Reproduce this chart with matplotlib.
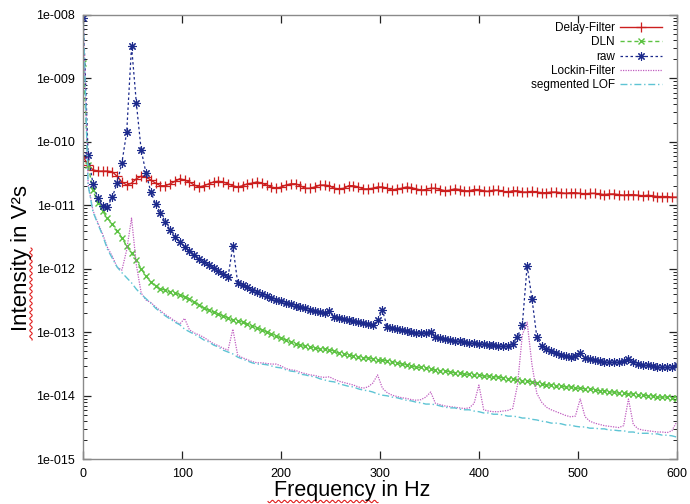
import numpy as np
import matplotlib
matplotlib.use("Agg")
import matplotlib.pyplot as plt
from matplotlib.ticker import FuncFormatter, LogLocator, MultipleLocator
from matplotlib.lines import Line2D

plt.rcParams['font.family'] = ['Liberation Sans', 'DejaVu Sans']

# frequency bins (Hz), 124 points from 0 to 600
freq = np.arange(124) * 600.0 / 123

# values are log10 of the intensity in V^2 s
delay_log = [
    -10.24, -10.36, -10.44, -10.46, -10.46, -10.46, -10.47, -10.54, -10.63, -10.68,
    -10.65, -10.58, -10.54, -10.55, -10.60, -10.65, -10.69, -10.69, -10.66, -10.62,
    -10.58, -10.60, -10.63, -10.68, -10.71, -10.69, -10.66, -10.63, -10.62, -10.63,
    -10.66, -10.69, -10.71, -10.69, -10.66, -10.65, -10.63, -10.65, -10.68, -10.71,
    -10.73, -10.71, -10.68, -10.66, -10.66, -10.69, -10.73, -10.73, -10.71, -10.68,
    -10.68, -10.69, -10.73, -10.74, -10.73, -10.69, -10.69, -10.71, -10.74, -10.74,
    -10.73, -10.71, -10.71, -10.73, -10.76, -10.74, -10.73, -10.71, -10.72, -10.74,
    -10.76, -10.75, -10.73, -10.73, -10.75, -10.77, -10.76, -10.74, -10.75, -10.77,
    -10.77, -10.75, -10.75, -10.77, -10.78, -10.76, -10.76, -10.78, -10.79, -10.77,
    -10.77, -10.79, -10.79, -10.78, -10.79, -10.80, -10.80, -10.79, -10.79, -10.80,
    -10.81, -10.80, -10.80, -10.81, -10.82, -10.81, -10.81, -10.82, -10.83, -10.82,
    -10.82, -10.83, -10.84, -10.83, -10.83, -10.84, -10.85, -10.84, -10.85, -10.86,
    -10.86, -10.86, -10.87, -10.87]

dln_log = [
    -8.75, -10.36, -10.76, -10.96, -11.09, -11.20, -11.29, -11.40, -11.51, -11.64,
    -11.75, -11.86, -12.00, -12.11, -12.21, -12.27, -12.32, -12.33, -12.36, -12.38,
    -12.41, -12.44, -12.47, -12.52, -12.57, -12.62, -12.65, -12.68, -12.71, -12.74,
    -12.77, -12.81, -12.82, -12.84, -12.87, -12.90, -12.93, -12.96, -12.99, -13.03,
    -13.06, -13.09, -13.12, -13.15, -13.18, -13.20, -13.22, -13.23, -13.25, -13.26,
    -13.26, -13.28, -13.29, -13.33, -13.34, -13.36, -13.37, -13.39, -13.40, -13.40,
    -13.42, -13.44, -13.44, -13.45, -13.47, -13.48, -13.50, -13.51, -13.53, -13.55,
    -13.55, -13.56, -13.58, -13.59, -13.61, -13.61, -13.62, -13.64, -13.64, -13.66,
    -13.66, -13.67, -13.67, -13.69, -13.69, -13.70, -13.70, -13.72, -13.73, -13.73,
    -13.75, -13.77, -13.77, -13.78, -13.80, -13.81, -13.83, -13.83, -13.85, -13.85,
    -13.86, -13.86, -13.88, -13.88, -13.89, -13.89, -13.91, -13.92, -13.92, -13.94,
    -13.94, -13.96, -13.96, -13.97, -13.97, -13.99, -13.99, -14.00, -14.00, -14.02,
    -14.02, -14.02, -14.03, -14.03]

raw_log = [
    -8.05, -10.20, -10.66, -10.88, -11.01, -11.02, -10.87, -10.65, -10.33, -9.84,
    -8.49, -9.39, -10.13, -10.49, -10.79, -10.98, -11.12, -11.26, -11.39, -11.50,
    -11.58, -11.65, -11.72, -11.78, -11.84, -11.89, -11.94, -11.99, -12.04, -12.08,
    -12.13, -11.64, -12.22, -12.25, -12.29, -12.33, -12.36, -12.40, -12.43, -12.46,
    -12.49, -12.51, -12.54, -12.55, -12.58, -12.60, -12.62, -12.65, -12.66, -12.68,
    -12.70, -12.66, -12.76, -12.77, -12.79, -12.81, -12.82, -12.84, -12.85, -12.87,
    -12.88, -12.81, -12.65, -12.92, -12.93, -12.95, -12.96, -12.98, -12.99, -13.01,
    -13.01, -13.01, -12.99, -13.07, -13.09, -13.10, -13.12, -13.13, -13.13, -13.15,
    -13.17, -13.17, -13.18, -13.18, -13.20, -13.20, -13.22, -13.22, -13.22, -13.18,
    -13.07, -12.88, -11.95, -12.47, -13.07, -13.22, -13.26, -13.29, -13.33, -13.36,
    -13.37, -13.39, -13.37, -13.33, -13.40, -13.42, -13.44, -13.45, -13.47, -13.47,
    -13.47, -13.47, -13.45, -13.42, -13.47, -13.50, -13.51, -13.51, -13.53, -13.55,
    -13.55, -13.55, -13.55, -13.51]

lockin_log = [
    -8.08, -10.66, -11.08, -11.27, -11.45, -11.66, -11.80, -11.97, -12.02, -11.70,
    -11.20, -11.94, -12.38, -12.49, -12.53, -12.60, -12.66, -12.72, -12.77, -12.82,
    -12.87, -12.78, -12.96, -13.01, -13.04, -13.08, -13.13, -13.18, -13.21, -13.25,
    -13.28, -12.95, -13.36, -13.40, -13.43, -13.46, -13.48, -13.48, -13.49, -13.50,
    -13.50, -13.53, -13.57, -13.59, -13.60, -13.63, -13.65, -13.67, -13.68, -13.70,
    -13.71, -13.70, -13.74, -13.77, -13.79, -13.81, -13.83, -13.86, -13.88, -13.86,
    -13.80, -13.67, -13.88, -13.95, -13.99, -14.01, -14.03, -14.04, -14.06, -14.07,
    -14.06, -14.02, -13.94, -14.12, -14.14, -14.16, -14.17, -14.18, -14.19, -14.20,
    -14.19, -14.12, -13.83, -14.22, -14.24, -14.25, -14.25, -14.24, -14.23, -14.20,
    -13.83, -13.04, -12.84, -13.51, -13.96, -14.10, -14.18, -14.22, -14.25, -14.28,
    -14.31, -14.33, -14.32, -14.05, -14.33, -14.40, -14.43, -14.45, -14.47, -14.48,
    -14.49, -14.50, -14.47, -14.05, -14.45, -14.52, -14.54, -14.55, -14.56, -14.57,
    -14.57, -14.58, -14.55, -14.41]

lof_log = [
    -8.08, -10.68, -11.10, -11.29, -11.47, -11.69, -11.83, -11.97, -12.06, -12.14,
    -12.22, -12.32, -12.40, -12.47, -12.54, -12.62, -12.68, -12.74, -12.79, -12.84,
    -12.88, -12.95, -12.99, -13.03, -13.07, -13.12, -13.15, -13.20, -13.23, -13.28,
    -13.31, -13.34, -13.39, -13.42, -13.45, -13.48, -13.50, -13.50, -13.51, -13.53,
    -13.55, -13.56, -13.59, -13.61, -13.62, -13.66, -13.67, -13.69, -13.70, -13.73,
    -13.75, -13.77, -13.78, -13.81, -13.83, -13.85, -13.86, -13.89, -13.91, -13.92,
    -13.94, -13.97, -13.99, -14.00, -14.02, -14.03, -14.05, -14.07, -14.08, -14.10,
    -14.11, -14.13, -14.13, -14.14, -14.16, -14.18, -14.19, -14.19, -14.21, -14.22,
    -14.22, -14.24, -14.25, -14.27, -14.27, -14.29, -14.29, -14.30, -14.32, -14.32,
    -14.33, -14.35, -14.35, -14.37, -14.38, -14.40, -14.41, -14.43, -14.43, -14.44,
    -14.46, -14.46, -14.48, -14.49, -14.49, -14.51, -14.51, -14.52, -14.52, -14.54,
    -14.54, -14.55, -14.55, -14.57, -14.57, -14.59, -14.59, -14.59, -14.60, -14.60,
    -14.62, -14.62, -14.63, -14.65]

labels = ["Delay-Filter", "DLN", "raw", "Lockin-Filter", "segmented LOF"]

fig = plt.figure(figsize=(6.9, 5.04), dpi=100)
ax = fig.add_axes([83.3 / 690, 1 - 459.3 / 504, (676.7 - 83.3) / 690, (459.3 - 15) / 504])

ax.plot(freq, 10 ** np.array(delay_log), color='#cc1f1f', lw=1.0, ls='-',
        marker='+', ms=6.5, mew=0.9, label=labels[0])
ax.plot(freq, 10 ** np.array(dln_log), color='#5cc242', lw=1.0, ls=(0, (3, 2)),
        marker='x', ms=5, mew=1.0, label=labels[1])
ax.plot(freq, 10 ** np.array(raw_log), color='#1c2a8c', lw=0.9, ls=(0, (2, 2)),
        marker=(8, 2, 0), ms=6, mew=0.8, label=labels[2])
ax.plot(freq, 10 ** np.array(lockin_log), color='#c05ec0', lw=0.9, ls=(0, (1, 1)),
        label=labels[3])
ax.plot(freq, 10 ** np.array(lof_log), color='#5ec4d4', lw=1.0, ls=(0, (5, 2, 1, 2)),
        label=labels[4])

ax.set_yscale('log')
ax.set_xlim(0, 600)
ax.set_ylim(1e-15, 1e-8)
ax.xaxis.set_major_locator(MultipleLocator(100))
ax.yaxis.set_major_locator(LogLocator(base=10, numticks=20))
ax.yaxis.set_minor_locator(LogLocator(base=10, subs=np.arange(2, 10), numticks=20))
ax.yaxis.set_major_formatter(FuncFormatter(lambda v, p: "1e-%03d" % round(-np.log10(v))))
ax.yaxis.set_minor_formatter(FuncFormatter(lambda v, p: ""))
ax.tick_params(which='both', direction='in', top=True, right=True, labelsize=9, pad=6,
               color='#222222')
ax.tick_params(which='major', length=6, width=0.9)
ax.tick_params(which='minor', length=3, width=0.7)
for s in ax.spines.values():
    s.set_color('#8a8a8a')
    s.set_linewidth(1.0)

leg = ax.legend(loc='upper right', bbox_to_anchor=(662 / 690, 1 - 22 / 504),
                bbox_transform=fig.transFigure, frameon=False, markerfirst=False,
                fontsize=8.5, handlelength=3.6, handletextpad=0.4, labelspacing=0.2,
                borderaxespad=0, borderpad=0, numpoints=1)

fig.text(22 / 690, 1 - 258 / 504, "Intensity in V²s", rotation=90, fontsize=16,
         ha='center', va='center')
fig.text(352 / 690, 1 - 496 / 504, "Frequency in Hz", fontsize=15.5,
         ha='center', va='baseline')

# spell-check squiggles under "Intensity" and "Frequency"
t = np.linspace(0, 1, 200)
yy = 248 + t * 92
xx = 31 + 1.2 * np.sin(t * 92 / 3.0 * np.pi)
fig.add_artist(Line2D(xx / 690, 1 - yy / 504, color='#e02020', lw=0.8,
                      transform=fig.transFigure))
xx = 268 + t * 110
yy = 501.5 + 1.2 * np.sin(t * 110 / 3.0 * np.pi)
fig.add_artist(Line2D(xx / 690, 1 - yy / 504, color='#e02020', lw=0.8,
                      transform=fig.transFigure))

fig.savefig("out.png", dpi=100)
